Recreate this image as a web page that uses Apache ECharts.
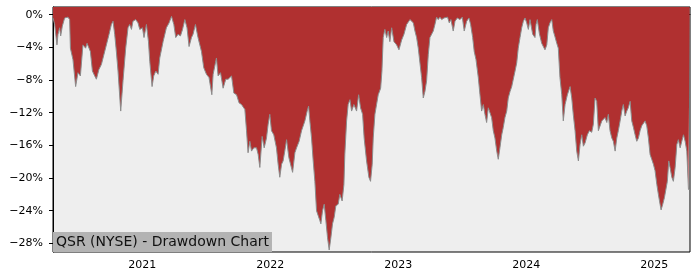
<!DOCTYPE html>
<html>
<head>
<meta charset="utf-8">
<script src="https://cdn.jsdelivr.net/npm/echarts@6/dist/echarts.min.js"></script>
<style>html,body{margin:0;padding:0;background:#fff}#c{width:700px;height:280px}</style>
</head>
<body>
<div id="c"></div>
<script>
// decimal years
var dates = [
2020.302,2020.315,2020.333,2020.341,2020.354,2020.362,2020.375,2020.393,2020.419,2020.432,
2020.438,2020.458,2020.479,2020.497,2020.516,2020.536,2020.557,2020.568,2020.583,2020.594,
2020.610,2020.628,2020.641,2020.661,2020.680,2020.693,2020.719,2020.740,2020.758,2020.771,
2020.784,2020.797,2020.810,2020.831,2020.849,2020.870,2020.888,2020.901,2020.915,2020.927,
2020.948,2020.966,2020.980,2021.001,2021.013,2021.032,2021.048,2021.058,2021.076,2021.089,
2021.105,2021.123,2021.136,2021.162,2021.188,2021.209,2021.228,2021.246,2021.261,2021.279,
2021.298,2021.314,2021.332,2021.349,2021.365,2021.384,2021.396,2021.415,2021.435,2021.462,
2021.480,2021.501,2021.521,2021.543,
2021.553,2021.579,2021.592,2021.611,2021.631,2021.652,2021.670,2021.697,2021.715,2021.736,
2021.756,2021.775,2021.801,2021.814,2021.826,2021.840,2021.853,2021.871,2021.892,2021.905,
2021.918,2021.936,2021.952,2021.970,2021.983,2021.996,2022.009,2022.027,2022.048,2022.061,
2022.074,2022.088,2022.100,2022.113,2022.127,2022.145,2022.158,2022.174,2022.192,2022.205,
2022.225,2022.244,2022.270,2022.288,2022.299,2022.309,2022.322,2022.335,2022.348,2022.361,
2022.374,2022.387,2022.395,2022.408,2022.421,2022.434,2022.447,2022.460,2022.473,2022.486,
2022.499,2022.512,2022.530,2022.543,2022.561,2022.575,2022.582,2022.596,2022.608,2022.622,
2022.635,2022.653,2022.674,2022.690,2022.705,2022.721,2022.733,2022.752,2022.770,2022.783,
2022.796,
2022.804,2022.817,2022.830,2022.843,2022.862,2022.872,2022.882,2022.895,2022.909,2022.921,
2022.934,2022.948,2022.966,2022.987,2023.005,2023.026,2023.044,2023.065,2023.077,2023.091,
2023.104,2023.117,2023.130,2023.143,2023.156,2023.169,2023.182,2023.195,2023.208,2023.221,
2023.234,2023.247,2023.260,2023.273,2023.286,2023.299,2023.312,2023.325,2023.339,2023.357,
2023.372,2023.385,2023.398,2023.411,2023.429,2023.443,2023.461,2023.482,2023.500,2023.515,
2023.534,2023.552,2023.565,2023.581,2023.593,2023.607,2023.625,2023.638,2023.651,2023.664,
2023.677,2023.690,2023.703,2023.716,2023.729,2023.742,2023.755,2023.769,2023.781,2023.794,
2023.808,2023.820,2023.833,2023.847,2023.859,2023.873,2023.886,2023.898,2023.912,2023.925,
2023.937,2023.951,2023.964,2023.977,2023.990,2024.003,2024.016,2024.029,2024.050,2024.068,
2024.076,2024.086,2024.102,2024.120,2024.133,2024.146,2024.160,2024.172,2024.185,2024.199,
2024.211,2024.224,2024.238,2024.250,2024.263,2024.277,2024.289,2024.303,2024.321,2024.342,
2024.355,2024.367,2024.381,2024.394,2024.407,2024.420,2024.433,2024.446,2024.459,2024.477,
2024.493,2024.511,2024.524,2024.537,2024.550,2024.563,2024.576,2024.590,2024.602,2024.615,
2024.629,2024.641,2024.654,2024.668,2024.680,2024.694,2024.707,2024.719,2024.733,2024.746,
2024.758,2024.772,2024.785,2024.797,2024.811,2024.824,2024.837,2024.850,2024.863,2024.876,
2024.889,2024.902,2024.915,2024.928,2024.941,2024.954,2024.967,2024.980,2024.993,2025.006,
2025.020,2025.032,2025.045,2025.053,2025.066,2025.079,2025.092,2025.102,2025.113,2025.123,
2025.137,2025.149,2025.163,2025.176,2025.188,2025.202,2025.215,2025.228,2025.241,2025.254,
2025.267,2025.276
];
// drawdown in percent
var drawdown = [
-0.4,-1.2,-3.7,-2.4,-1.6,-2.6,-1.4,-0.4,-0.3,-0.6,
-4.1,-5.5,-8.8,-7.1,-7.5,-3.7,-4.1,-3.5,-3.3,-4.5,
-6.9,-7.5,-7.9,-6.7,-6.1,-5.3,-3.7,-2.4,-1.2,-0.8,
-2.4,-4.5,-6.9,-11.8,-8.1,-4.1,-1.6,-1.2,-1.8,-0.8,
-0.6,-1.0,-1.8,-1.6,-2.8,-1.2,-3.3,-5.7,-8.8,-7.5,
-6.9,-7.3,-5.3,-3.3,-1.6,-1.0,-0.2,-1.2,-2.8,-2.4,
-2.6,-1.8,-0.6,-1.6,-3.9,-2.8,-2.4,-1.2,-2.8,-4.5,
-6.5,-7.3,-7.7,-9.8,
-7.3,-5.3,-7.5,-7.1,-9.0,-7.9,-7.9,-7.5,-9.6,-9.8,
-10.8,-11.0,-11.6,-14.2,-16.9,-15.5,-16.7,-16.3,-16.3,-17.1,
-18.7,-14.9,-16.3,-15.1,-13.4,-12.2,-14.2,-14.7,-16.3,-18.3,
-19.9,-18.3,-17.9,-16.7,-15.3,-17.5,-17.5,-19.3,-16.9,-16.3,
-15.5,-14.2,-13.0,-11.8,-11.2,-13.0,-15.1,-17.9,-20.4,-24.0,
-24.6,-25.2,-25.6,-24.0,-23.2,-25.2,-27.3,-28.8,-27.3,-25.6,
-24.8,-23.4,-23.2,-22.0,-22.8,-20.8,-17.1,-13.0,-11.0,-10.4,
-11.8,-11.0,-11.8,-9.8,-11.4,-12.2,-15.1,-17.9,-19.9,-20.4,
-18.3,
-15.1,-12.2,-11.0,-9.8,-9.0,-6.9,-2.8,-1.8,-2.8,-2.0,
-3.3,-1.6,-3.3,-3.7,-4.3,-3.1,-2.4,-1.2,-1.0,-0.6,
-0.4,-1.0,-2.0,-2.8,-4.1,-5.9,-7.7,-10.2,-9.4,-8.1,
-4.9,-2.8,-2.7,-2.0,-1.2,-0.3,-0.6,-0.3,-0.6,-0.4,
-0.6,-0.3,-1.0,-0.6,-2.0,-0.8,-0.4,-0.6,-0.3,-2.0,
-0.8,-0.4,-1.2,-2.8,-4.5,-5.5,-7.7,-9.8,-11.8,-11.0,
-12.2,-13.2,-11.4,-11.4,-12.6,-14.2,-15.1,-16.7,-17.7,-16.3,
-14.7,-13.8,-12.6,-11.8,-10.2,-9.4,-8.8,-9.0,-6.9,-5.9,
-4.1,-2.8,-1.6,-0.8,-0.4,-1.0,-1.8,-0.6,-2.4,-2.8,
-1.2,-0.6,-2.3,-3.5,-3.3,-4.3,-3.7,-1.6,-1.0,-0.6,
-2.0,-2.7,-3.5,-4.1,-7.7,-9.8,-13.0,-11.0,-9.8,-8.8,
-10.2,-12.2,-14.2,-16.7,-17.9,-15.9,-14.7,-16.1,-15.7,-14.7,
-14.2,-14.4,-13.4,-10.2,-10.6,-14.2,-14.4,-13.0,-13.0,-12.6,
-13.2,-12.2,-14.2,-15.1,-15.5,-16.7,-15.1,-14.2,-13.0,-11.8,
-11.0,-12.4,-11.8,-11.4,-10.6,-13.0,-13.8,-14.7,-15.5,-15.1,
-14.2,-13.6,-13.4,-13.0,-13.6,-15.1,-17.1,-17.7,-18.3,-19.1,
-20.8,-22.0,-23.2,-23.9,-23.2,-22.4,-22.6,-20.4,-17.9,-18.7,
-19.9,-20.4,-18.7,-15.9,-15.3,-16.3,-15.5,-14.7,-15.5,-16.7,
-21.4,-21.4
];
var xTicks = [2021, 2022, 2023, 2024, 2025];
var yTicks = [0, -4, -8, -12, -16, -20, -24, -28];
var titleText = 'QSR (NYSE) - Drawdown Chart';

var data = dates.map(function (d, i) { return [d, drawdown[i]]; });
var chart = echarts.init(document.getElementById('c'));
var font = 'DejaVu Sans';
chart.setOption({
  animation: false,
  backgroundColor: '#ffffff',
  title: {
    text: titleText,
    left: 53, top: 232,
    padding: [2, 3, 2, 3],
    backgroundColor: '#b3b3b3',
    textStyle: { fontFamily: font, fontSize: 14, fontWeight: 'normal', color: '#111', lineHeight: 16 }
  },
  grid: {
    left: 53, top: 7, width: 637, height: 245,
    show: true, backgroundColor: '#eeeeee', borderColor: '#000', borderWidth: 1
  },
  xAxis: {
    type: 'value', min: 2020.302, max: 2025.279,
    splitLine: { show: false },
    axisLine: { show: true, lineStyle: { color: '#000', width: 1 } },
    axisTick: { show: true, length: 4, inside: false, customValues: xTicks, lineStyle: { color: '#000' } },
    axisLabel: { customValues: xTicks, margin: 8, fontFamily: font, fontSize: 11, color: '#000',
      formatter: function (v) { return String(Math.round(v)); } }
  },
  yAxis: {
    type: 'value', min: -29.05, max: 0.94,
    splitLine: { show: false },
    axisLine: { show: true, lineStyle: { color: '#000', width: 1 } },
    axisTick: { show: true, length: 4, inside: false, customValues: yTicks, lineStyle: { color: '#000' } },
    axisLabel: { customValues: yTicks, margin: 10, fontFamily: font, fontSize: 11, color: '#000',
      formatter: function (v) { return (v < 0 ? '\u2212' : '') + Math.abs(Math.round(v)) + '%'; } }
  },
  series: [{
    type: 'line',
    data: data,
    showSymbol: false,
    symbol: 'none',
    lineStyle: { color: '#8c8c8c', width: 1 },
    areaStyle: { color: '#b03030', opacity: 1, origin: 'end' },
    z: 2
  }]
});
</script>
</body>
</html>
